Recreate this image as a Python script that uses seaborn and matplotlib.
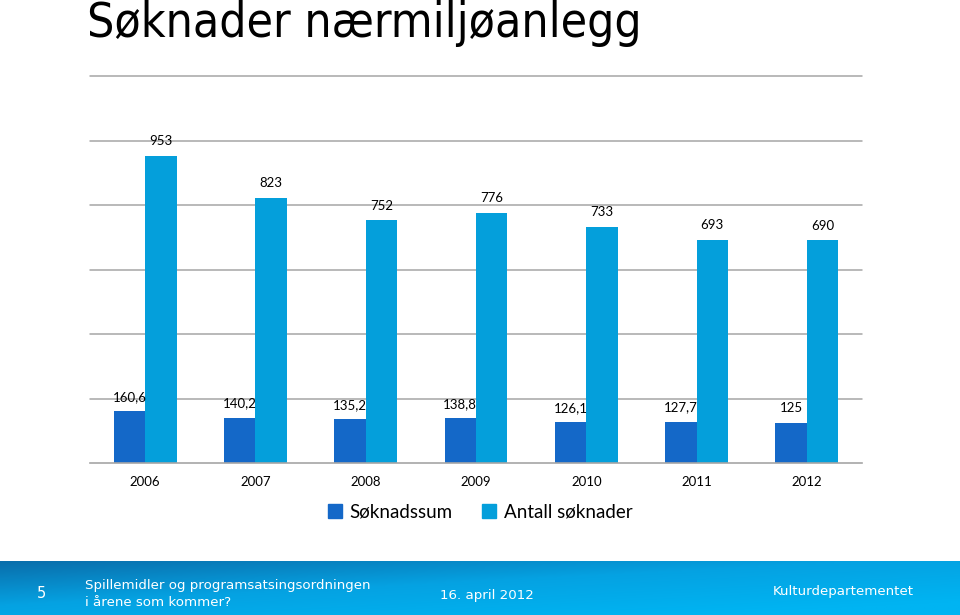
import numpy as np
import pandas as pd
import seaborn as sns
import matplotlib.pyplot as plt
import matplotlib.colors as mcolors
from matplotlib.ticker import FixedLocator

# data
years = ["2006", "2007", "2008", "2009", "2010", "2011", "2012"]
soknadssum = [160.6, 140.2, 135.2, 138.8, 126.1, 127.7, 125]
antall = [953, 823, 752, 776, 733, 693, 690]
series_names = ["Søknadssum", "Antall søknader"]
colors = ["#1468c8", "#049fdb"]

df = pd.DataFrame({
    "year": years * 2,
    "value": soknadssum + antall,
    "series": [series_names[0]] * len(years) + [series_names[1]] * len(years),
})

sns.set_style("white")
plt.rcParams["font.family"] = ["Lato", "DejaVu Sans"]
plt.rcParams["text.color"] = "black"

fig = plt.figure(figsize=(9.6, 6.15), dpi=100)
ax = fig.add_axes([90 / 960, 1 - 463 / 615, 772 / 960, 387 / 615])

sns.barplot(data=df, x="year", y="value", hue="series", palette=colors,
            width=0.57, gap=0, saturation=1, linewidth=0, ax=ax, legend=False)

ax.set_ylim(0, 1200)
ax.set_xlim(-0.5, len(years) - 0.5)
ax.set_yticks(range(200, 1201, 200))
ax.yaxis.grid(True, color="#a6a6a6", linewidth=1.1)
for gl in ax.get_ygridlines():
    gl.set_clip_on(False)
ax.set_axisbelow(True)
ax.tick_params(axis="y", left=False, labelleft=False)
for s in ["left", "right", "top"]:
    ax.spines[s].set_visible(False)
ax.spines["bottom"].set_color("#a6a6a6")
ax.spines["bottom"].set_linewidth(1.2)

ax.set_xlabel("")
ax.set_ylabel("")
ax.tick_params(axis="x", which="major", length=0, labelsize=9.5, pad=9, colors="black")
ax.xaxis.set_minor_locator(FixedLocator(np.arange(-0.5, len(years), 1)))
ax.tick_params(axis="x", which="minor", length=5, color="#a6a6a6", width=1.2)

for cont in ax.containers:
    ax.bar_label(cont, labels=[f"{v:g}".replace(".", ",") for v in cont.datavalues],
                 padding=6, fontsize=9.5, color="black")

handles = [plt.Rectangle((0, 0), 1, 1, color=c) for c in colors]
fig.legend(handles, series_names, loc="center", bbox_to_anchor=(0.5, 1 - 512 / 615),
           ncol=2, frameon=False, fontsize=13.5, handlelength=0.75, handleheight=0.75,
           handletextpad=0.4, columnspacing=1.6, labelcolor="black")

fig.text(87 / 960, 1 - 37 / 615, "Søknader nærmiljøanlegg", fontsize=34.5,
         family=["DejaVu Sans"], fontstretch="condensed", va="baseline", ha="left", color="black")

# footer band
fax = fig.add_axes([0, 0, 1, 54 / 615])
xx, yy = np.meshgrid(np.linspace(0, 1, 200), np.linspace(0, 1, 50))
t = np.clip(0.55 * xx + 0.6 * yy, 0, 1)
cmap = mcolors.LinearSegmentedColormap.from_list("foot", ["#0a6eab", "#05a2e2", "#00b4f2"])
fax.imshow(t, cmap=cmap, aspect="auto", extent=[0, 1, 0, 1], origin="upper")
fax.set_xlim(0, 1)
fax.set_ylim(0, 1)
fax.axis("off")
ft = dict(color="white", family=["DejaVu Sans"], fontsize=9.6, va="center", transform=fig.transFigure)
fig.text(37 / 960, 1 - 594 / 615, "5", ha="left", fontsize=10.5,
         **{k: v for k, v in ft.items() if k != "fontsize"})
fig.text(85 / 960, 1 - 594 / 615, "Spillemidler og programsatsingsordningen\ni årene som kommer?",
         ha="left", linespacing=1.3, **ft)
fig.text(440 / 960, 1 - 595 / 615, "16. april 2012", ha="left", **ft)
fig.text(773 / 960, 1 - 592 / 615, "Kulturdepartementet", ha="left", **ft)

fig.savefig("out.png", dpi=100)
